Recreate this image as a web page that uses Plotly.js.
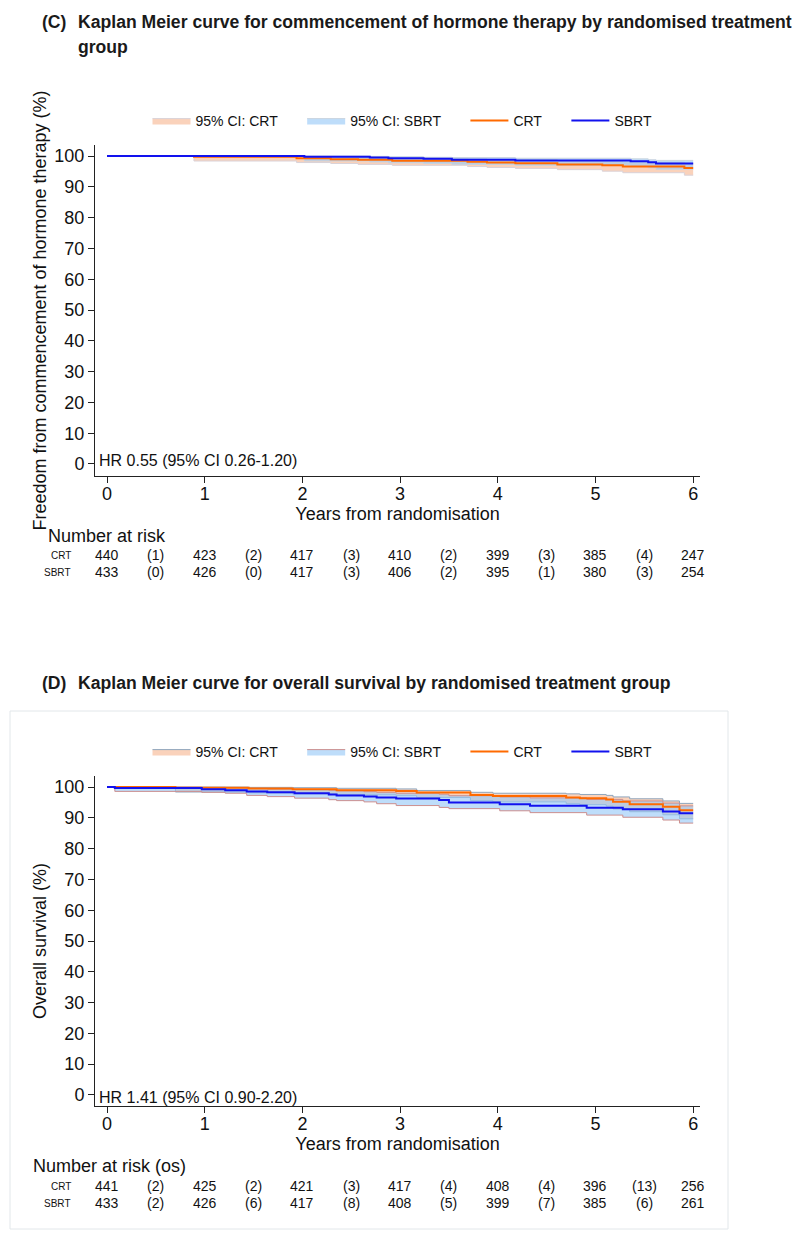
<!DOCTYPE html>
<html><head><meta charset="utf-8">
<script src="https://cdn.plot.ly/plotly-3.0.1.min.js"></script>
<style>html,body{margin:0;padding:0;background:#fff}#chart{width:800px;height:1242px}</style>
</head><body><div id="chart"></div>
<script>
// ---------- Panel C: commencement of hormone therapy ----------
const C_time_CRT = [0, 0.89, 1.94, 2.29, 2.57, 2.92, 3.69, 3.89, 4.18, 4.61, 5.07, 5.28, 5.91, 6.0];
const C_surv_CRT = [100, 99.8, 99.3, 99.0, 98.8, 98.5, 98.2, 97.9, 97.7, 97.3, 97.0, 96.6, 96.1, 96.1];
const C_lo_CRT   = [100, 98.4, 97.9, 97.6, 97.3, 97.0, 96.6, 96.3, 96.0, 95.6, 95.1, 94.6, 93.8, 93.8];
const C_hi_CRT   = [100, 100, 99.8, 99.7, 99.5, 99.3, 99.1, 98.9, 98.8, 98.5, 98.3, 98.0, 97.6, 97.6];

const C_time_SBRT = [0, 2.02, 2.69, 2.88, 3.24, 3.53, 4.18, 5.36, 5.54, 5.62, 6.0];
const C_surv_SBRT = [100, 99.8, 99.5, 99.3, 99.1, 98.8, 98.6, 98.3, 98.0, 97.6, 97.6];
const C_lo_SBRT   = [100, 98.4, 98.1, 97.8, 97.6, 97.3, 97.0, 96.6, 96.2, 95.7, 95.7];
const C_hi_SBRT   = [100, 100, 99.9, 99.8, 99.6, 99.5, 99.3, 99.1, 98.8, 98.6, 98.6];

const C_risk_times = [0, 1, 2, 3, 4, 5, 6];
const C_risk_CRT   = [440, 423, 417, 410, 399, 385, 247];
const C_events_CRT = [1, 2, 3, 2, 3, 4];
const C_risk_SBRT  = [433, 426, 417, 406, 395, 380, 254];
const C_events_SBRT= [0, 0, 3, 2, 1, 3];
const C_hr_text = "HR 0.55 (95% CI 0.26-1.20)";

// ---------- Panel D: overall survival ----------
const D_time_CRT = [0, 0.70, 1.45, 1.90, 2.35, 2.96, 3.17, 3.72, 3.95, 4.70, 4.84, 5.11, 5.18, 5.35, 5.69, 5.86, 6.0];
const D_surv_CRT = [100, 99.8, 99.5, 99.3, 99.0, 98.7, 98.2, 97.4, 97.1, 96.6, 96.4, 96.0, 95.2, 94.4, 93.6, 92.5, 92.5];
const D_hi_CRT   = [100, 100, 99.9, 99.8, 99.6, 99.4, 98.9, 98.3, 98.0, 97.8, 97.6, 97.3, 96.8, 96.2, 95.5, 94.7, 94.7];
const D_lo_CRT   = [100, 98.4, 98.1, 97.8, 97.5, 97.2, 96.6, 95.6, 95.2, 94.6, 94.3, 93.8, 92.9, 92.0, 91.0, 89.7, 89.7];

const D_time_SBRT = [0, 0.08, 0.97, 1.21, 1.43, 1.64, 1.92, 2.27, 2.35, 2.63, 2.76, 2.96, 3.40, 3.50, 4.02, 4.33, 4.91, 5.28, 5.69, 5.86, 6.0];
const D_surv_SBRT = [100, 99.7, 99.3, 99.0, 98.6, 98.3, 98.0, 97.6, 97.3, 96.9, 96.6, 96.3, 95.8, 95.0, 94.4, 93.9, 93.3, 92.8, 92.1, 91.5, 91.5];
const D_hi_SBRT   = [100, 100, 99.9, 99.8, 99.6, 99.4, 99.2, 99.0, 98.8, 98.5, 98.3, 98.0, 97.7, 97.2, 96.8, 96.5, 96.0, 95.5, 94.8, 93.9, 93.9];
const D_lo_SBRT   = [100, 98.6, 98.3, 98.0, 97.3, 96.9, 96.4, 95.9, 95.6, 95.2, 94.6, 94.0, 93.4, 93.0, 92.3, 91.7, 90.9, 90.2, 89.3, 88.3, 88.3];

const D_risk_times = [0, 1, 2, 3, 4, 5, 6];
const D_risk_CRT   = [441, 425, 421, 417, 408, 396, 256];
const D_events_CRT = [2, 2, 3, 4, 4, 13];
const D_risk_SBRT  = [433, 426, 417, 408, 399, 385, 261];
const D_events_SBRT= [2, 6, 8, 5, 7, 6];
const D_hr_text = "HR 1.41 (95% CI 0.90-2.20)";

const groups = ["CRT", "SBRT"];
const ciNames = ["95% CI: CRT", "95% CI: SBRT"];
const yTicks = [0,10,20,30,40,50,60,70,80,90,100];
const xTicks = [0,1,2,3,4,5,6];

// ---------- layout helpers ----------
const W = 800, H = 1242;
const px = x => x / W, py = y => 1 - y / H;
const FONT = "Liberation Sans, Arial, sans-serif";
const ORANGE = "#ff6a00", BLUE = "#1212ee";
const PEACH = "rgba(245,160,112,0.48)", SKY = "rgba(150,200,247,0.62)";
const PAD = "\u00a0\u00a0\u00a0\u00a0\u00a0"; // legend entry spacing

function band(t, lo, hi, fill, edge, name, xa, ya, lg) {
  return [
    {x: t, y: hi, xaxis: xa, yaxis: ya, mode: "lines", line: {shape: "hv", color: edge, width: 1},
     showlegend: false, hoverinfo: "skip", legend: lg},
    {x: t, y: lo, xaxis: xa, yaxis: ya, mode: "lines", fill: "tonexty", fillcolor: fill,
     line: {shape: "hv", color: edge, width: 1}, name: name + PAD, showlegend: true, legend: lg, hoverinfo: "skip"}
  ];
}
function km(t, s, color, name, xa, ya, lg) {
  return {x: t, y: s, xaxis: xa, yaxis: ya, mode: "lines", line: {shape: "hv", color: color, width: 2},
          name: name + PAD, legend: lg, hoverinfo: "skip"};
}

const traces = [
  ...band(C_time_CRT, C_lo_CRT, C_hi_CRT, PEACH, "#d9d2d8", ciNames[0], "x", "y", "legend"),
  ...band(C_time_SBRT, C_lo_SBRT, C_hi_SBRT, SKY, "#c9d3df", ciNames[1], "x", "y", "legend"),
  km(C_time_CRT, C_surv_CRT, ORANGE, groups[0], "x", "y", "legend"),
  km(C_time_SBRT, C_surv_SBRT, BLUE, groups[1], "x", "y", "legend"),
  ...band(D_time_CRT, D_lo_CRT, D_hi_CRT, PEACH, "#8fa6bd", ciNames[0], "x2", "y2", "legend2"),
  ...band(D_time_SBRT, D_lo_SBRT, D_hi_SBRT, SKY, "#cc8f8f", ciNames[1], "x2", "y2", "legend2"),
  km(D_time_CRT, D_surv_CRT, ORANGE, groups[0], "x2", "y2", "legend2"),
  km(D_time_SBRT, D_surv_SBRT, BLUE, groups[1], "x2", "y2", "legend2")
];

function xAxis(domain, anchor) {
  return {domain: domain, anchor: anchor, range: [-0.123, 6.07], tickvals: xTicks, ticks: "outside",
    ticklen: 6, tickwidth: 1, tickcolor: "#222", showline: true, linecolor: "#222", linewidth: 1,
    showgrid: false, zeroline: false, ticklabelstandoff: -5, tickfont: {family: FONT, size: 18, color: "#111"},
    title: {text: "Years from randomisation", font: {family: FONT, size: 18, color: "#111"}, standoff: 0}};
}
function yAxis(domain, anchor, range, title) {
  return {domain: domain, anchor: anchor, range: range, tickvals: yTicks, ticks: "outside",
    ticklen: 6, tickwidth: 1, tickcolor: "#222", showline: true, linecolor: "#222", linewidth: 1,
    showgrid: false, zeroline: false, tickfont: {family: FONT, size: 18, color: "#111"},
    title: {text: title, font: {family: FONT, size: 18, color: "#111"}, standoff: 3}};
}

const ann = [];
function addText(text, x, y, opts) {
  ann.push(Object.assign({text: text, x: x, y: y, xref: "paper", yref: "paper", showarrow: false,
    xanchor: "left", yanchor: "middle", font: {family: FONT, size: 14, color: "#111"}}, opts || {}));
}
// titles
const titleFont = {family: FONT, size: 17.6, color: "#1a1a1a", weight: "bold"};
addText("<b>(C)</b>", px(40), py(22), {font: titleFont});
addText("<b>Kaplan Meier curve for commencement of hormone therapy by randomised treatment</b>", px(76), py(22), {font: titleFont});
addText("<b>group</b>", px(76), py(47), {font: titleFont});
addText("<b>(D)</b>", px(40), py(683), {font: titleFont});
addText("<b>Kaplan Meier curve for overall survival by randomised treatment group</b>", px(76), py(683), {font: titleFont});

// HR texts
addText(C_hr_text, px(97), py(460), {font: {family: FONT, size: 16, color: "#111"}});
addText(D_hr_text, px(97), py(1097), {font: {family: FONT, size: 16, color: "#111"}});

// risk tables
function riskTable(header, hx, hy, rowY, xref, times, risks, events) {
  addText(header, px(hx), py(hy), {font: {family: FONT, size: 18, color: "#111"}});
  for (let r = 0; r < 2; r++) {
    addText(groups[r], px(73), py(rowY[r]), {xanchor: "right", font: {family: FONT, size: 10, color: "#111"}});
    times.forEach((t, i) => {
      ann.push({text: String(risks[r][i]), x: t, y: py(rowY[r]), xref: xref, yref: "paper", showarrow: false,
        xanchor: "center", yanchor: "middle", font: {family: FONT, size: 14, color: "#111"}});
      if (i < events[r].length) {
        ann.push({text: "(" + events[r][i] + ")", x: (t + times[i + 1]) / 2, y: py(rowY[r]), xref: xref, yref: "paper",
          showarrow: false, xanchor: "center", yanchor: "middle", font: {family: FONT, size: 14, color: "#111"}});
      }
    });
  }
}
riskTable("Number at risk", 46, 536, [555, 572], "x", C_risk_times, [C_risk_CRT, C_risk_SBRT], [C_events_CRT, C_events_SBRT]);
riskTable("Number at risk (os)", 31, 1166, [1186, 1203], "x2", D_risk_times, [D_risk_CRT, D_risk_SBRT], [D_events_CRT, D_events_SBRT]);

const legendBase = {orientation: "h", xanchor: "center", yanchor: "middle", bgcolor: "rgba(0,0,0,0)",
  font: {family: FONT, size: 14, color: "#111"}, itemwidth: 38, traceorder: "normal", itemclick: false};

const layout = {
  width: W, height: H, margin: {l: 0, r: 0, t: 0, b: 0}, paper_bgcolor: "#fff", plot_bgcolor: "#fff",
  xaxis: xAxis([px(95), px(700)], "y"),
  yaxis: yAxis([py(476), py(145)], "x", [-3.9, 103.6], "Freedom from commencement of hormone therapy (%)"),
  xaxis2: xAxis([px(95), px(700)], "y2"),
  yaxis2: yAxis([py(1106), py(776)], "x2", [-3.6, 103.6], "Overall survival (%)"),
  legend: Object.assign({x: px(412), y: py(121)}, legendBase),
  legend2: Object.assign({x: px(412), y: py(752)}, legendBase),
  annotations: ann,
  shapes: [{type: "rect", xref: "paper", yref: "paper", x0: px(10), x1: px(728), y0: py(1229), y1: py(711),
            line: {color: "#e2e7ea", width: 1}, fillcolor: "rgba(0,0,0,0)", layer: "below"}],
  showlegend: true, hovermode: false
};

Plotly.newPlot("chart", traces, layout, {staticPlot: true, displayModeBar: false});
</script></body></html>
